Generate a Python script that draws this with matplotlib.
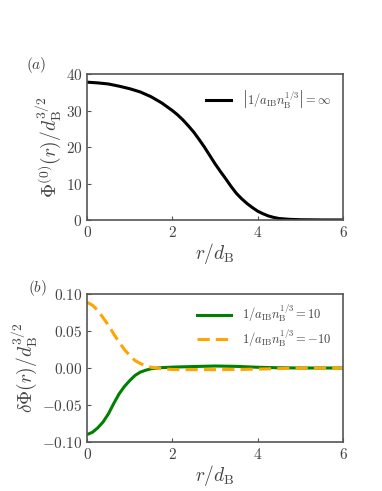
import matplotlib
matplotlib.use('Agg')
import matplotlib.pyplot as plt

plt.rcParams['mathtext.fontset'] = 'cm'
plt.rcParams['font.family'] = 'serif'
plt.rcParams['font.serif'] = ['cmr10', 'DejaVu Serif']
plt.rcParams['axes.formatter.use_mathtext'] = True

# (a) ground state profile
r_a = [0, 0.25, 0.5, 0.75, 1.0, 1.25, 1.5, 1.75, 2.0, 2.125, 2.25, 2.375, 2.5,
       2.625, 2.75, 2.875, 3.0, 3.125, 3.25, 3.375, 3.5, 3.625, 3.75, 3.875,
       4.0, 4.125, 4.25, 4.375, 4.5, 4.75, 5.0, 5.5, 6.0]
phi0 = [37.8, 37.6, 37.3, 36.7, 36.0, 35.1, 33.8, 32.1, 30.0, 28.8, 27.4, 25.8,
        24.1, 22.1, 20.0, 17.7, 15.4, 13.3, 11.3, 9.2, 7.3, 5.8, 4.5, 3.4,
        2.4, 1.7, 1.1, 0.7, 0.4, 0.17, 0.07, 0.01, 0.0]

# (b) corrections
r_b = [0, 0.125, 0.25, 0.375, 0.5, 0.625, 0.75, 0.875, 1.0, 1.125, 1.25, 1.375,
       1.5, 1.75, 2.0, 2.5, 3.0, 3.5, 4.0, 4.5, 5.0, 6.0]
dphi_pos = [-0.090, -0.087, -0.081, -0.073, -0.062, -0.048, -0.035, -0.025,
            -0.017, -0.010, -0.0055, -0.003, -0.001, 0.0005, 0.0012, 0.002,
            0.0027, 0.0022, 0.001, 0.0003, 0.0, 0.0]
dphi_neg = [0.089, 0.085, 0.078, 0.068, 0.058, 0.046, 0.035, 0.025, 0.017,
            0.010, 0.006, 0.003, 0.001, -0.001, -0.002, -0.0022, -0.0022,
            -0.002, -0.0015, -0.0008, -0.0002, 0.0]

grey = '#444444'
fig = plt.figure(figsize=(3.82, 4.91), dpi=100)
ax1 = fig.add_axes([0.228, 0.552, 0.670, 0.297])
ax2 = fig.add_axes([0.228, 0.100, 0.670, 0.301])

ax1.plot(r_a, phi0, color='black', lw=2.2,
         label=r'$\left|1/a_{\rm IB}n_{\rm B}^{1/3}\right| = \infty$')
ax1.set_xlim(0, 6)
ax1.set_ylim(0, 40)
ax1.set_xticks([0, 2, 4, 6])
ax1.set_yticks([0, 10, 20, 30, 40])
ax1.set_xlabel(r'$r/d_{\rm B}$', fontsize=14, color=grey, labelpad=1)
ax1.set_ylabel(r'$\Phi^{(0)}(r)/d_{\rm B}^{3/2}$', fontsize=14, color=grey,
               labelpad=1)
ax1.legend(loc='center right', frameon=False, fontsize=9, handlelength=2.0,
           handletextpad=0.9, labelcolor=grey, bbox_to_anchor=(1.0, 0.83))

ax2.plot(r_b, dphi_pos, color='green', lw=2.2,
         label=r'$1/a_{\rm IB}n_{\rm B}^{1/3} = 10$')
ax2.plot(r_b, dphi_neg, color='orange', lw=2.2, ls='--', dashes=(4, 2),
         label=r'$1/a_{\rm IB}n_{\rm B}^{1/3} = -10$')
ax2.set_xlim(0, 6)
ax2.set_ylim(-0.1, 0.1)
ax2.set_xticks([0, 2, 4, 6])
ax2.set_yticks([-0.10, -0.05, 0.0, 0.05, 0.10])
ax2.yaxis.set_major_formatter(matplotlib.ticker.FuncFormatter(
    lambda v, p: r'$%.2f$' % v if abs(v) > 1e-9 else r'$0.00$'))
ax2.set_xlabel(r'$r/d_{\rm B}$', fontsize=14, color=grey, labelpad=1)
ax2.set_ylabel(r'$\delta\Phi(r)/d_{\rm B}^{3/2}$', fontsize=14, color=grey,
               labelpad=1)
ax2.legend(loc='upper right', frameon=False, fontsize=9, handlelength=2.7,
           handletextpad=0.9, labelspacing=0.25, labelcolor=grey,
           bbox_to_anchor=(1.0, 1.02))

for ax in (ax1, ax2):
    for s in ax.spines.values():
        s.set_color('#555555')
        s.set_linewidth(1.2)
    ax.tick_params(direction='in', length=3, color='#555555', labelcolor=grey,
                   labelsize=11)

fig.text(0.068, 0.86, r'$(a)$', fontsize=11, color=grey)
fig.text(0.072, 0.405, r'$(b)$', fontsize=11, color=grey)

fig.savefig('out.png', dpi=100)
